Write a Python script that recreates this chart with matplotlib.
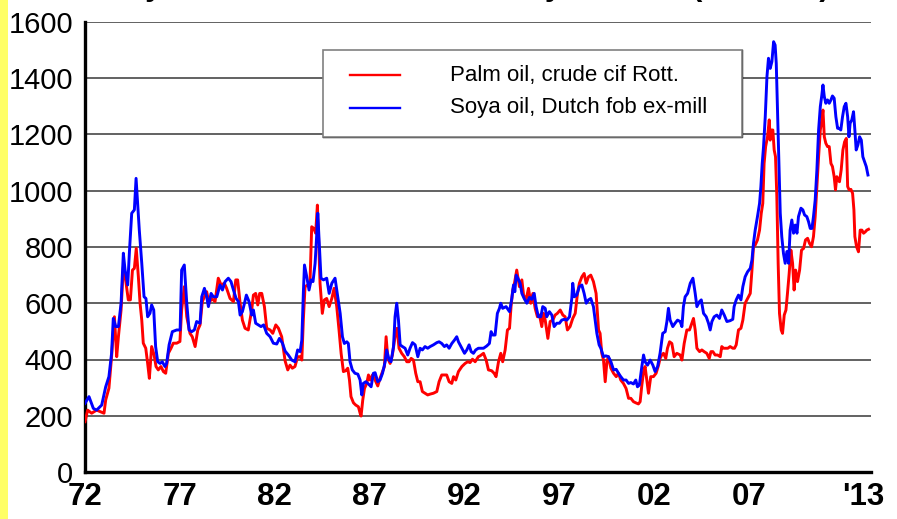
import matplotlib
matplotlib.use("Agg")
import matplotlib.pyplot as plt
from matplotlib.patches import Rectangle
from matplotlib.lines import Line2D

plt.rcParams["font.family"] = ["Liberation Sans", "DejaVu Sans"]

# ---- data (US$/ton) ----
palm_years = [
    1972.00, 1972.14, 1972.35, 1972.61, 1972.79, 1973.00, 1973.09, 1973.26, 1973.40, 1973.55,
    1973.67, 1973.76, 1973.90, 1974.02, 1974.14, 1974.28, 1974.39, 1974.50, 1974.60, 1974.70,
    1974.81, 1974.90, 1974.99, 1975.07, 1975.20, 1975.30, 1975.39, 1975.51, 1975.64, 1975.74,
    1975.86, 1976.00, 1976.13, 1976.25, 1976.39, 1976.53, 1976.65, 1976.83, 1977.00, 1977.09,
    1977.23, 1977.36, 1977.53, 1977.65, 1977.80, 1977.94, 1978.06, 1978.18, 1978.29, 1978.41,
    1978.53, 1978.67, 1978.85, 1979.02, 1979.17, 1979.34, 1979.46, 1979.64, 1979.82, 1979.94,
    1980.04, 1980.17, 1980.29, 1980.43, 1980.60, 1980.78, 1980.87, 1980.99, 1981.10, 1981.20,
    1981.31, 1981.45, 1981.57, 1981.75, 1981.89, 1982.05, 1982.19, 1982.36, 1982.54, 1982.68,
    1982.80, 1982.92, 1983.06, 1983.20, 1983.33, 1983.42, 1983.50, 1983.59, 1983.73, 1983.85,
    1983.94, 1984.05, 1984.15, 1984.24, 1984.29, 1984.38, 1984.50, 1984.61, 1984.73, 1984.86,
    1985.00, 1985.12, 1985.26, 1985.38, 1985.49, 1985.61, 1985.73, 1985.84, 1985.93, 1986.01,
    1986.14, 1986.26, 1986.40, 1986.49, 1986.54, 1986.63, 1986.72, 1986.84, 1986.93, 1987.02,
    1987.14, 1987.28, 1987.42, 1987.54, 1987.67, 1987.77, 1987.86, 1987.95, 1988.07, 1988.19,
    1988.33, 1988.44, 1988.54, 1988.68, 1988.82, 1988.95, 1989.07, 1989.18, 1989.30, 1989.42,
    1989.53, 1989.65, 1989.77, 1989.91, 1990.05, 1990.18, 1990.35, 1990.53, 1990.65, 1990.79,
    1990.93, 1991.05, 1991.18, 1991.32, 1991.41, 1991.53, 1991.67, 1991.85, 1992.02, 1992.16,
    1992.28, 1992.41, 1992.55, 1992.72, 1992.81, 1992.99, 1993.13, 1993.25, 1993.42, 1993.55,
    1993.65, 1993.78, 1993.90, 1994.00, 1994.13, 1994.25, 1994.36, 1994.44, 1994.53, 1994.62,
    1994.74, 1994.88, 1995.01, 1995.10, 1995.23, 1995.36, 1995.48, 1995.59, 1995.71, 1995.83,
    1995.94, 1996.06, 1996.15, 1996.24, 1996.38, 1996.50, 1996.64, 1996.76, 1996.88, 1997.03,
    1997.17, 1997.29, 1997.41, 1997.55, 1997.69, 1997.82, 1997.94, 1998.04, 1998.17, 1998.29,
    1998.40, 1998.52, 1998.64, 1998.78, 1998.92, 1999.05, 1999.13, 1999.22, 1999.31, 1999.40,
    1999.49, 1999.57, 1999.70, 1999.84, 1999.98, 2000.10, 2000.22, 2000.36, 2000.50, 2000.63,
    2000.75, 2000.89, 2001.01, 2001.15, 2001.24, 2001.33, 2001.42, 2001.50, 2001.59, 2001.68,
    2001.80, 2001.94, 2002.08, 2002.21, 2002.29, 2002.38, 2002.47, 2002.59, 2002.68, 2002.79,
    2002.91, 2003.03, 2003.17, 2003.35, 2003.44, 2003.56, 2003.70, 2003.84, 2003.96, 2004.05,
    2004.14, 2004.23, 2004.37, 2004.49, 2004.61, 2004.75, 2004.88, 2004.97, 2005.07, 2005.19,
    2005.32, 2005.46, 2005.54, 2005.63, 2005.76, 2005.86, 2005.98, 2006.12, 2006.21, 2006.30,
    2006.42, 2006.55, 2006.65, 2006.77, 2006.95, 2007.04, 2007.13, 2007.21, 2007.30, 2007.42,
    2007.53, 2007.62, 2007.70, 2007.77, 2007.85, 2007.95, 2008.04, 2008.09, 2008.16, 2008.23,
    2008.30, 2008.37, 2008.44, 2008.51, 2008.58, 2008.67, 2008.74, 2008.83, 2008.92, 2009.00,
    2009.09, 2009.18, 2009.27, 2009.35, 2009.43, 2009.53, 2009.64, 2009.74, 2009.85, 2009.95,
    2010.06, 2010.16, 2010.27, 2010.37, 2010.46, 2010.55, 2010.64, 2010.73, 2010.81, 2010.87,
    2010.94, 2011.02, 2011.11, 2011.20, 2011.29, 2011.37, 2011.46, 2011.53, 2011.60, 2011.67,
    2011.74, 2011.83, 2011.92, 2012.01, 2012.10, 2012.17, 2012.25, 2012.34, 2012.43, 2012.50,
    2012.55, 2012.64, 2012.74, 2012.83, 2012.92, 2013.01, 2013.10, 2013.18, 2013.27,
]
palm_prices = [
    179, 220, 209, 220, 215, 209, 256, 298, 410, 552,
    410, 481, 576, 730, 683, 612, 612, 718, 724, 795,
    695, 600, 540, 458, 440, 386, 333, 446, 416, 375,
    363, 375, 357, 351, 422, 440, 458, 458, 464, 576,
    659, 552, 493, 481, 446, 505, 523, 606, 623, 641,
    600, 617, 606, 689, 665, 671, 653, 617, 606, 683,
    683, 600, 540, 511, 505, 576, 629, 635, 594, 635,
    635, 588, 511, 505, 493, 523, 511, 481, 395, 363,
    380, 369, 375, 410, 410, 398, 540, 659, 665, 671,
    872, 866, 849, 949, 860, 671, 564, 612, 617, 588,
    617, 653, 588, 505, 422, 357, 360, 369, 327, 268,
    246, 238, 232, 209, 199, 256, 297, 315, 345, 327,
    345, 327, 306, 333, 357, 375, 481, 404, 386, 416,
    481, 511, 440, 422, 410, 392, 392, 404, 398, 351,
    321, 321, 286, 280, 274, 277, 280, 286, 321, 345,
    345, 345, 321, 315, 339, 327, 357, 375, 386, 392,
    389, 401, 392, 410, 413, 422, 398, 363, 360, 351,
    339, 392, 422, 392, 434, 505, 511, 588, 647, 671,
    718, 659, 683, 629, 612, 653, 600, 635, 582, 552,
    558, 517, 564, 540, 475, 535, 540, 558, 564, 576,
    558, 552, 505, 517, 546, 564, 635, 671, 694, 706,
    671, 694, 700, 677, 635, 505, 493, 422, 398, 321,
    392, 410, 369, 351, 339, 351, 327, 315, 297, 262,
    262, 250, 246, 242, 250, 309, 357, 375, 327, 280,
    339, 339, 351, 380, 404, 416, 422, 404, 440, 463,
    457, 410, 422, 416, 398, 457, 505, 505, 529, 546,
    505, 440, 428, 434, 428, 422, 404, 428, 428, 416,
    416, 410, 446, 440, 440, 440, 446, 440, 440, 452,
    505, 511, 540, 600, 623, 635, 718, 801, 807, 825,
    860, 920, 955, 1097, 1157, 1192, 1252, 1180, 1216, 1216,
    1145, 1121, 979, 742, 564, 505, 493, 558, 576, 635,
    706, 789, 742, 647, 718, 677, 718, 789, 795, 825,
    831, 813, 801, 837, 908, 1015, 1121, 1216, 1252, 1287,
    1192, 1169, 1157, 1157, 1097, 1086, 1050, 1003, 1050, 1038,
    1032, 1074, 1145, 1174, 1186, 1015, 1003, 1005, 991, 932,
    837, 801, 783, 860, 860, 849, 854, 860, 863,
]

soya_years = [
    1972.00, 1972.21, 1972.44, 1972.61, 1972.88, 1973.09, 1973.26, 1973.40, 1973.49, 1973.62,
    1973.76, 1973.90, 1974.02, 1974.11, 1974.25, 1974.34, 1974.46, 1974.60, 1974.69, 1974.77,
    1974.86, 1974.99, 1975.11, 1975.21, 1975.30, 1975.42, 1975.51, 1975.62, 1975.72, 1975.83,
    1975.95, 1976.07, 1976.21, 1976.30, 1976.43, 1976.60, 1976.83, 1977.01, 1977.09, 1977.23,
    1977.36, 1977.48, 1977.62, 1977.76, 1977.88, 1978.06, 1978.15, 1978.29, 1978.41, 1978.50,
    1978.64, 1978.76, 1978.94, 1979.11, 1979.24, 1979.38, 1979.55, 1979.69, 1979.82, 1979.96,
    1980.08, 1980.17, 1980.29, 1980.40, 1980.50, 1980.64, 1980.78, 1980.87, 1980.99, 1981.13,
    1981.27, 1981.41, 1981.57, 1981.75, 1981.92, 1982.10, 1982.24, 1982.40, 1982.54, 1982.71,
    1982.89, 1983.06, 1983.20, 1983.33, 1983.42, 1983.50, 1983.56, 1983.68, 1983.80, 1983.91,
    1984.01, 1984.12, 1984.20, 1984.26, 1984.33, 1984.43, 1984.56, 1984.73, 1984.86, 1985.00,
    1985.17, 1985.31, 1985.44, 1985.56, 1985.66, 1985.79, 1985.87, 1985.96, 1986.08, 1986.22,
    1986.37, 1986.49, 1986.58, 1986.66, 1986.79, 1986.93, 1987.07, 1987.19, 1987.28, 1987.42,
    1987.54, 1987.67, 1987.81, 1987.89, 1988.02, 1988.12, 1988.25, 1988.33, 1988.42, 1988.51,
    1988.60, 1988.72, 1988.86, 1989.00, 1989.12, 1989.25, 1989.39, 1989.53, 1989.65, 1989.77,
    1989.91, 1990.05, 1990.18, 1990.35, 1990.53, 1990.65, 1990.79, 1990.93, 1991.05, 1991.18,
    1991.32, 1991.46, 1991.58, 1991.67, 1991.85, 1991.99, 1992.11, 1992.23, 1992.34, 1992.46,
    1992.58, 1992.72, 1992.99, 1993.16, 1993.30, 1993.39, 1993.48, 1993.60, 1993.72, 1993.83,
    1993.90, 1994.00, 1994.18, 1994.36, 1994.48, 1994.57, 1994.64, 1994.71, 1994.80, 1994.92,
    1995.01, 1995.13, 1995.27, 1995.41, 1995.53, 1995.66, 1995.76, 1995.88, 1996.01, 1996.11,
    1996.24, 1996.32, 1996.46, 1996.59, 1996.71, 1996.85, 1996.99, 1997.11, 1997.24, 1997.38,
    1997.52, 1997.64, 1997.69, 1997.78, 1997.90, 1998.04, 1998.17, 1998.29, 1998.40, 1998.52,
    1998.64, 1998.78, 1998.87, 1998.96, 1999.08, 1999.17, 1999.31, 1999.43, 1999.57, 1999.70,
    1999.84, 1999.98, 2000.10, 2000.22, 2000.36, 2000.50, 2000.63, 2000.75, 2000.89, 2001.01,
    2001.10, 2001.20, 2001.33, 2001.42, 2001.50, 2001.63, 2001.77, 2001.91, 2002.03, 2002.16,
    2002.29, 2002.43, 2002.56, 2002.65, 2002.73, 2002.82, 2002.96, 2003.08, 2003.21, 2003.35,
    2003.44, 2003.52, 2003.61, 2003.74, 2003.88, 2004.02, 2004.14, 2004.23, 2004.37, 2004.46,
    2004.58, 2004.72, 2004.84, 2004.93, 2005.02, 2005.14, 2005.28, 2005.42, 2005.54, 2005.67,
    2005.81, 2005.98, 2006.12, 2006.19, 2006.30, 2006.42, 2006.55, 2006.65, 2006.77, 2006.90,
    2007.04, 2007.13, 2007.21, 2007.30, 2007.42, 2007.53, 2007.60, 2007.67, 2007.74, 2007.83,
    2007.92, 2008.00, 2008.09, 2008.18, 2008.27, 2008.35, 2008.41, 2008.48, 2008.55, 2008.62,
    2008.70, 2008.79, 2008.88, 2008.97, 2009.06, 2009.14, 2009.23, 2009.32, 2009.41, 2009.50,
    2009.58, 2009.71, 2009.81, 2009.90, 2010.02, 2010.11, 2010.20, 2010.29, 2010.37, 2010.46,
    2010.55, 2010.64, 2010.73, 2010.81, 2010.87, 2010.94, 2011.02, 2011.11, 2011.20, 2011.29,
    2011.37, 2011.46, 2011.55, 2011.64, 2011.72, 2011.81, 2011.90, 2011.99, 2012.08, 2012.17,
    2012.24, 2012.30, 2012.39, 2012.48, 2012.55, 2012.62, 2012.71, 2012.80, 2012.89, 2012.97,
    2013.06, 2013.15, 2013.24,
]
soya_prices = [
    244, 268, 226, 220, 238, 303, 339, 422, 546, 517,
    517, 600, 778, 718, 665, 783, 920, 932, 1044, 955,
    860, 742, 623, 617, 552, 564, 594, 576, 446, 392,
    386, 392, 375, 386, 452, 499, 505, 505, 718, 736,
    600, 505, 499, 505, 535, 529, 623, 653, 623, 588,
    635, 623, 623, 665, 647, 677, 689, 677, 647, 617,
    606, 558, 570, 600, 629, 606, 558, 576, 529, 523,
    517, 523, 493, 481, 458, 455, 475, 458, 430, 416,
    398, 392, 434, 428, 469, 635, 736, 694, 647, 683,
    677, 742, 837, 920, 825, 689, 683, 689, 635, 671,
    689, 623, 564, 481, 457, 463, 457, 392, 363, 351,
    348, 327, 274, 315, 321, 313, 303, 351, 353, 321,
    327, 351, 392, 434, 398, 392, 446, 552, 600, 540,
    452, 446, 440, 416, 440, 460, 452, 410, 440, 434,
    446, 440, 446, 452, 460, 463, 457, 446, 452, 440,
    457, 469, 481, 463, 440, 422, 434, 452, 428, 422,
    434, 440, 440, 448, 457, 499, 487, 487, 564, 582,
    600, 582, 588, 570, 617, 665, 641, 700, 689, 671,
    635, 617, 600, 621, 614, 635, 588, 552, 552, 588,
    582, 552, 570, 558, 517, 529, 529, 540, 543, 540,
    552, 617, 671, 623, 629, 659, 665, 635, 600, 612,
    617, 588, 540, 493, 452, 440, 410, 413, 410, 392,
    363, 365, 351, 339, 327, 327, 315, 318, 313, 327,
    303, 309, 375, 416, 392, 380, 398, 380, 357, 375,
    422, 493, 499, 535, 582, 540, 517, 529, 540, 535,
    517, 588, 623, 635, 671, 689, 635, 588, 606, 612,
    564, 552, 529, 505, 535, 552, 558, 546, 576, 558,
    535, 538, 543, 588, 612, 629, 612, 659, 694, 712,
    724, 754, 813, 860, 908, 955, 1015, 1097, 1157, 1263,
    1406, 1471, 1435, 1459, 1530, 1518, 1453, 1275, 1097, 920,
    837, 777, 742, 784, 742, 860, 896, 849, 878, 849,
    908, 938, 932, 914, 908, 890, 866, 866, 908, 967,
    1074, 1216, 1299, 1340, 1376, 1335, 1311, 1323, 1311, 1323,
    1337, 1329, 1263, 1222, 1222, 1216, 1263, 1299, 1311, 1263,
    1192, 1240, 1252, 1281, 1216, 1145, 1163, 1192, 1180, 1121,
    1103, 1086, 1056,
]

tick_years = [1972, 1977, 1982, 1987, 1992, 1997, 2002, 2007, 2013]
tick_labels = ["72", "77", "82", "87", "92", "97", "02", "07", "'13"]
y_ticks = [0, 200, 400, 600, 800, 1000, 1200, 1400, 1600]

PALM_LABEL = "Palm oil, crude cif Rott."
SOYA_LABEL = "Soya oil, Dutch fob ex-mill"
TITLE = "Monthly Prices of Palm Oil and Soybean Oil (US$/ton)"

W, H = 897, 519
fig = plt.figure(figsize=(W / 100, H / 100), dpi=100, facecolor="white")


def fx(px):
    return px / W


def fy(py):
    return 1 - py / H


# yellow strip on the left edge
fig.patches.append(Rectangle((0, 0), fx(8), 1, transform=fig.transFigure,
                             facecolor="#FFFF66", edgecolor="none", zorder=0))

ax = fig.add_axes([fx(85), fy(472), fx(871 - 85), fy(22) - fy(472)])
ax.set_facecolor("white")

ax.plot(palm_years, palm_prices, color="#FF0000", linewidth=2.1, zorder=3)
ax.plot(soya_years, soya_prices, color="#0000FF", linewidth=2.1, zorder=4)

ax.set_xlim(1972, 2013.4)
ax.set_ylim(0, 1600)
ax.set_yticks(y_ticks)
ax.set_xticks(tick_years)
ax.set_xticklabels(tick_labels)

# grid
ax.set_axisbelow(True)
ax.grid(True, axis="y", color="#555555", linewidth=1.3)
ax.grid(False, axis="x")

for side in ("top", "right"):
    ax.spines[side].set_visible(False)
for side in ("left", "bottom"):
    ax.spines[side].set_color("black")
    ax.spines[side].set_linewidth(2.4)

ax.tick_params(axis="both", length=0)
ax.tick_params(axis="y", labelsize=21, pad=8.5, colors="black")
ax.tick_params(axis="x", labelsize=22.5, pad=7, colors="black")
for lbl in ax.get_xticklabels():
    lbl.set_fontweight("bold")

# legend box drawn by hand: grey top/left edge, black right/bottom edge
fig.patches.append(Rectangle((fx(323), fy(137)), fx(742 - 323), fy(50) - fy(137),
                             transform=fig.transFigure, facecolor="white",
                             edgecolor="#808080", linewidth=1.2, zorder=5))
fig.lines.append(Line2D([fx(323), fx(742), fx(742)], [fy(137), fy(137), fy(50)],
                        transform=fig.transFigure, color="black", linewidth=1.0, zorder=5))
for ly, color, label in ((75, "#FF0000", PALM_LABEL), (108, "#0000FF", SOYA_LABEL)):
    fig.lines.append(Line2D([fx(350), fx(400)], [fy(ly), fy(ly)], transform=fig.transFigure,
                            color=color, linewidth=1.7, zorder=6))
    fig.text(fx(450), fy(ly), label, fontsize=16, color="black",
             ha="left", va="center", zorder=6)

# title, mostly cut off at the top edge as in the source
fig.text(fx(44), 1 + 5.5 / H, TITLE, fontsize=22.2, fontweight="bold",
         color="black", ha="left", va="baseline")

fig.savefig("out.png", dpi=100, facecolor="white")
